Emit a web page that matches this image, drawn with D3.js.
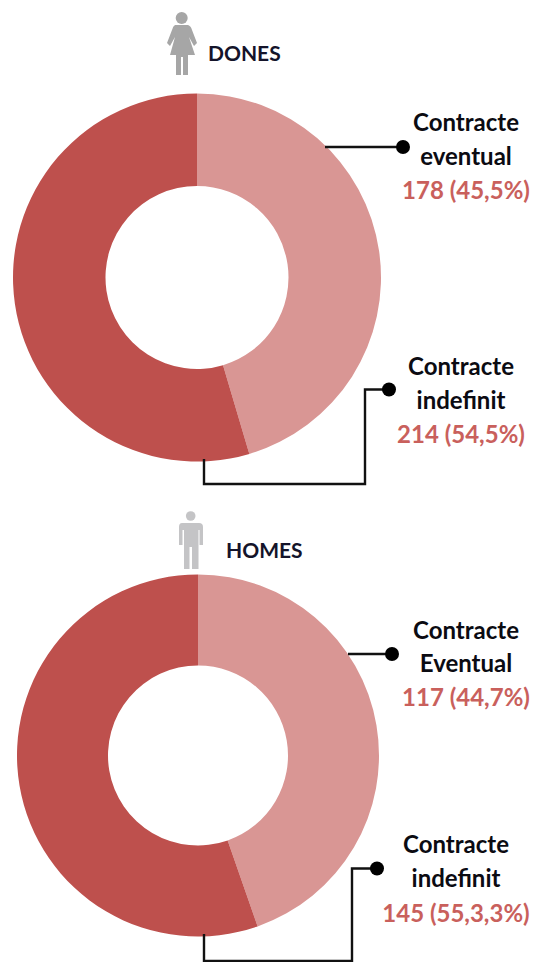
<!DOCTYPE html>
<html>
<head>
<meta charset="utf-8">
<script src="https://cdn.jsdelivr.net/npm/d3@7"></script>
<style>
html,body{margin:0;padding:0;background:#fff;overflow:hidden}
svg{display:block}
text{font-family:Lato,"Open Sans",sans-serif;font-weight:700}
</style>
</head>
<body>
<svg id="chart" width="541" height="962"></svg>
<script>
const panelTitles = ["DONES", "HOMES"];
const categories = ["Contracte eventual", "Contracte indefinit"];
const donesValues = [178, 214];
const homesValues = [117, 145];
const donesLabels = [["Contracte", "eventual"], ["Contracte", "indefinit"]];
const homesLabels = [["Contracte", "Eventual"], ["Contracte", "indefinit"]];
const donesValueLabels = ["178 (45,5%)", "214 (54,5%)"];
const homesValueLabels = ["117 (44,7%)", "145 (55,3,3%)"];

const colors = d3.scaleOrdinal().domain(categories).range(["#D99694", "#BE504D"]);
const svg = d3.select("#chart");
const pie = d3.pie().sort(null);

const layouts = [
  { cx:197, cy:277.5, outer:184, inner:91.5,
    titleX:208, titleY:61,
    leaders:[ [[325,147],[403,147]], [[204,459],[204,484],[365,484],[365,389.5],[389,389.5]] ],
    text:[ {x:466, ys:[131,165,199]}, {x:461, ys:[375,409,443]} ] },
  { cx:198, cy:755.5, outer:181, inner:90,
    titleX:226, titleY:558,
    leaders:[ [[348,654],[392,654]], [[204,934],[204,961],[352,961],[352,868.5],[377,868.5]] ],
    text:[ {x:466, ys:[639,672,706]}, {x:456, ys:[853,887,922]} ] }
];

const panels = [
  { title:panelTitles[0], values:donesValues, labels:donesLabels, valueLabels:donesValueLabels },
  { title:panelTitles[1], values:homesValues, labels:homesLabels, valueLabels:homesValueLabels }
];

panels.forEach((p, i) => {
  const L = layouts[i];
  const arc = d3.arc().innerRadius(L.inner).outerRadius(L.outer);
  const g = svg.append("g");
  g.append("g").attr("transform", `translate(${L.cx},${L.cy})`)
    .selectAll("path").data(pie(p.values)).join("path")
    .attr("d", arc)
    .attr("fill", (d, j) => colors(categories[j]));

  const line = d3.line();
  L.leaders.forEach(pts => {
    g.append("path").attr("d", line(pts)).attr("fill", "none")
      .attr("stroke", "#111").attr("stroke-width", 2.4).attr("stroke-linejoin", "miter");
    const end = pts[pts.length - 1];
    g.append("circle").attr("cx", end[0]).attr("cy", end[1]).attr("r", 7).attr("fill", "#000");
  });

  L.text.forEach((t, j) => {
    const rows = [...p.labels[j], p.valueLabels[j]];
    g.selectAll(null).data(rows).join("text")
      .attr("x", t.x).attr("y", (d, k) => t.ys[k])
      .attr("text-anchor", "middle")
      .attr("font-size", 24)
      .attr("fill", (d, k) => k === 2 ? "#C9605C" : "#0b0b12")
      .text(d => d);
  });

  g.append("text").attr("x", L.titleX).attr("y", L.titleY)
    .attr("font-size", 21).attr("fill", "#14142a").text(p.title);
});

// pictograms (decorative)
const woman = svg.append("g").attr("fill", "#A6A6A6");
woman.append("circle").attr("cx", 181.7).attr("cy", 18).attr("r", 6);
woman.append("path").attr("d", "M175,25 L188,25 Q191,26 192,30 L197,43 L194,46 L189,37 L195,55 L188,55 L188,75 L183,75 L183,57 L181,57 L181,75 L176,75 L176,55 L170,55 L175,37 L170,46 L167,43 L172,30 Q173,26 175,25 Z");
const man = svg.append("g").attr("fill", "#C4C4C6");
man.append("circle").attr("cx", 190.7).attr("cy", 516).attr("r", 4.8);
man.append("path").attr("d", "M182,523 L199,523 Q203,523 203,527 L203,545 L199.5,545 L199.5,530 L198.5,530 L198.5,569 L192,569 L192,547 L189.5,547 L189.5,569 L184,569 L184,530 L182.5,530 L182.5,545 L179,545 L179,527 Q179,523 182,523 Z");
</script>
</body>
</html>
